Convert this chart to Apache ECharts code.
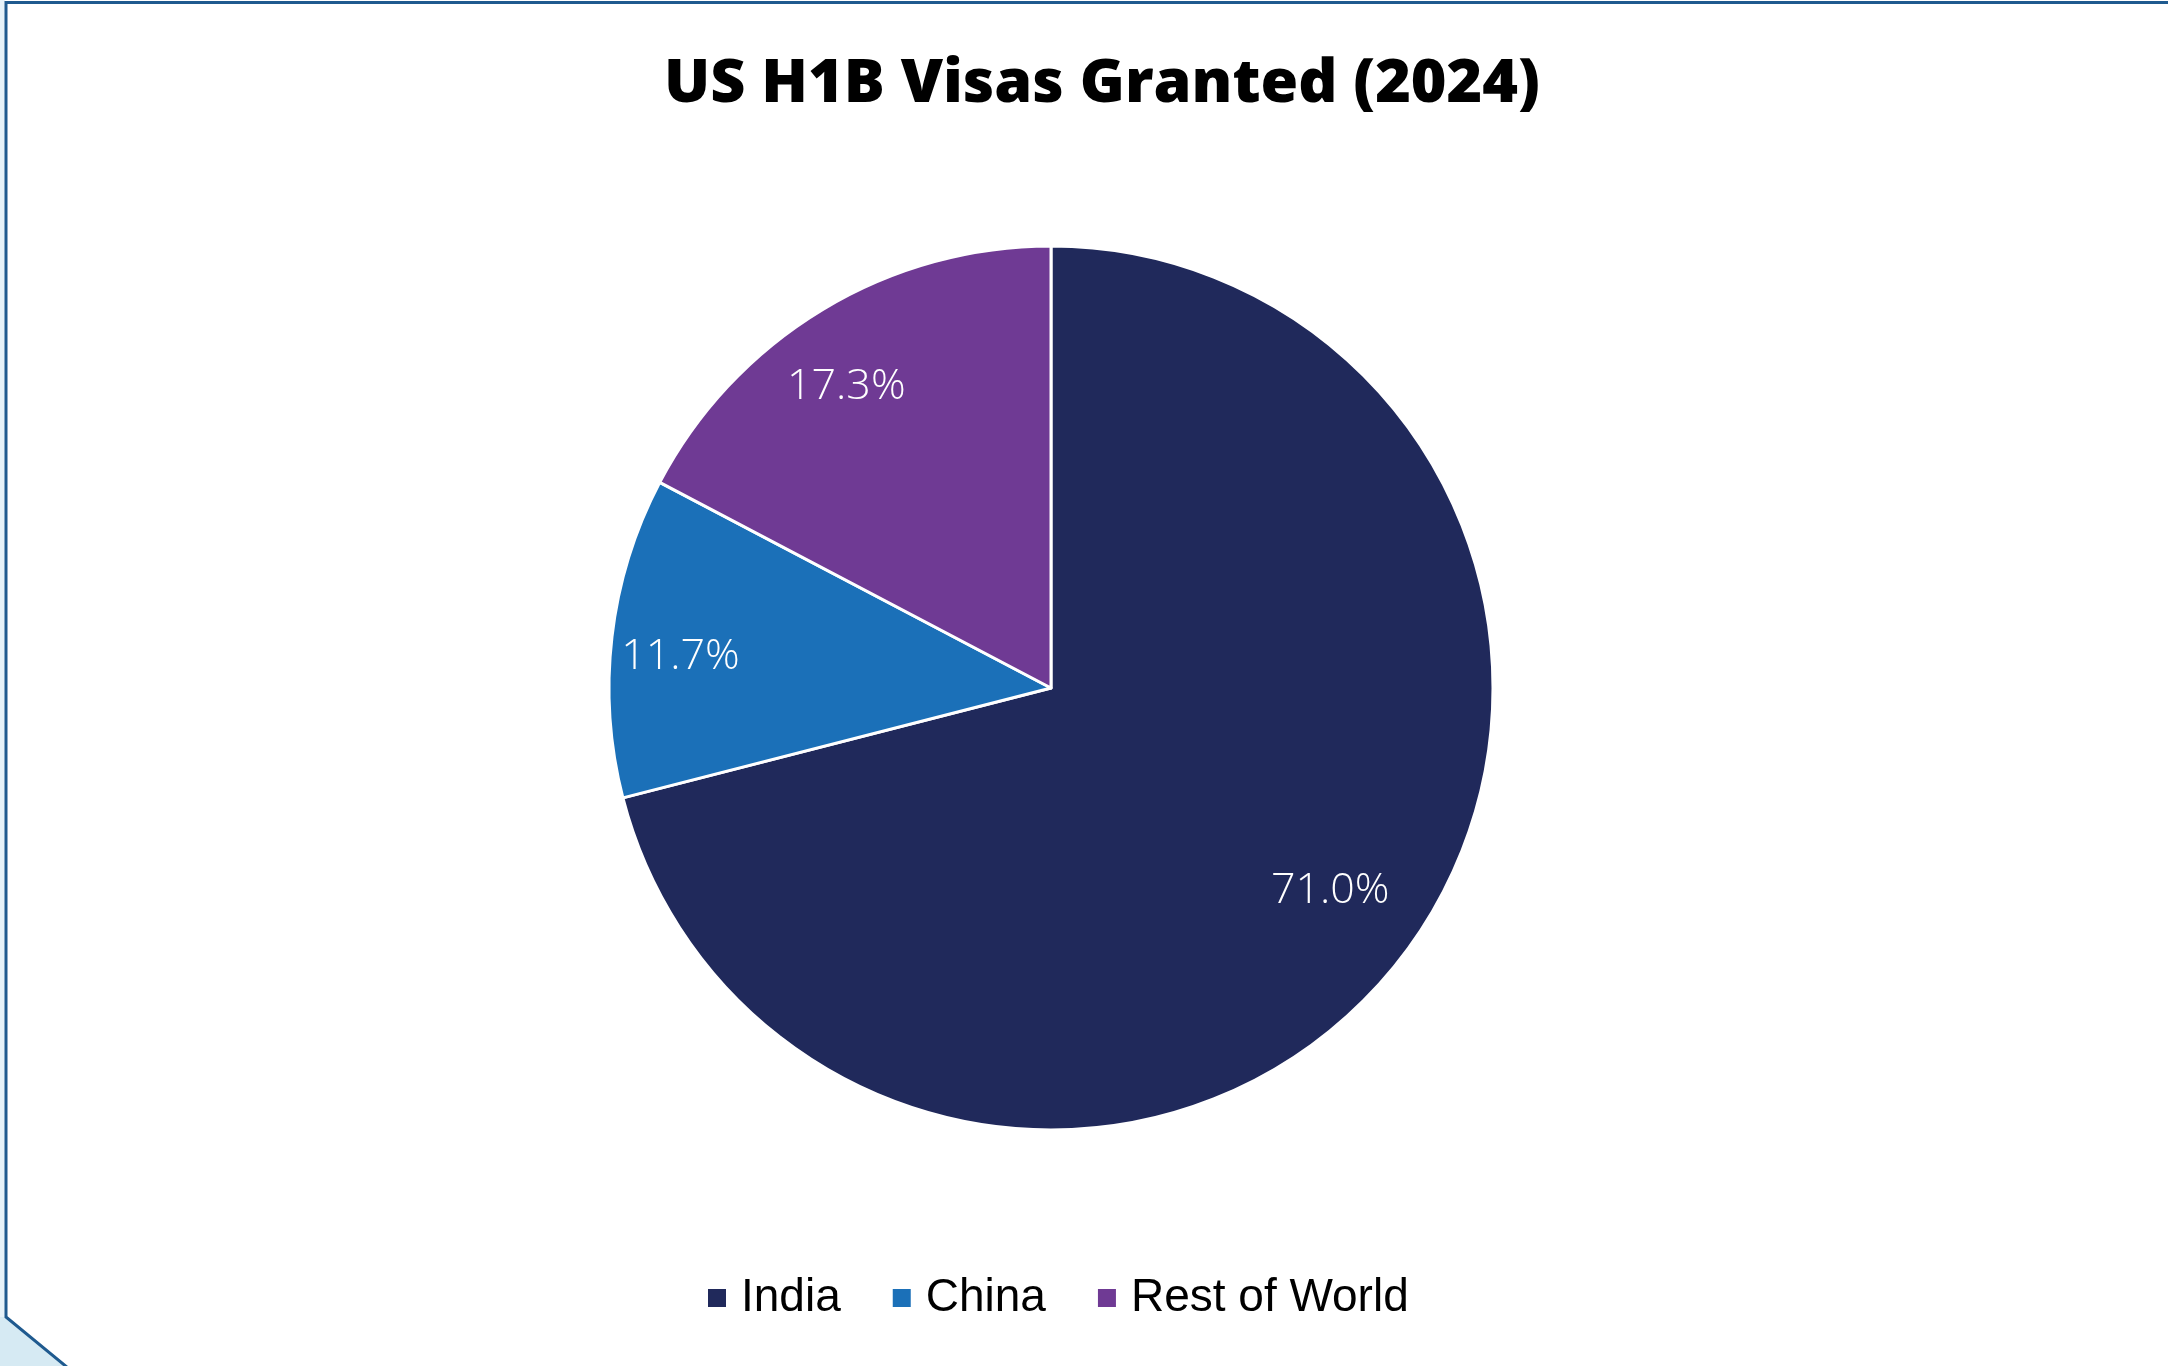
<!DOCTYPE html>
<html>
<head>
<meta charset="utf-8">
<script src="https://cdn.jsdelivr.net/npm/echarts@6/dist/echarts.min.js"></script>
<style>
html,body{margin:0;padding:0;background:#fff;}
#chart{width:2168px;height:1366px;}
</style>
</head>
<body>
<div id="chart"></div>
<script>
const titleText = 'US H1B Visas Granted (2024)';
const categories = ['India', 'China', 'Rest of World'];
const shares = [71.0, 11.7, 17.3];
const colors = ['#20295b', '#1b70b8', '#6f3a94'];
// small label nudges (px) relative to the library's inside-label position
const labelNudge = [[-6, -19], [-12, 11], [-18, 8]];

const chart = echarts.init(document.getElementById('chart'), null, {renderer: 'canvas'});

const mainData = categories.map((c, i) => ({name: c, value: shares[i], itemStyle: {color: colors[i]}}));
const labelData = categories.map((c, i) => ({name: c, value: shares[i]}));

const option = {
  backgroundColor: '#ffffff',
  animation: false,
  title: {
    text: titleText,
    left: 1097,
    top: 80,
    textAlign: 'center',
    textVerticalAlign: 'middle',
    textStyle: {fontFamily: "'Open Sans', sans-serif", fontWeight: 800, fontSize: 61, color: '#000000'}
  },
  legend: {
    bottom: 40,
    left: 701,
    itemWidth: 20,
    itemHeight: 20,
    itemGap: 50,
    icon: 'rect',
    data: categories,
    textStyle: {fontFamily: "'Liberation Sans', Arial, sans-serif", fontSize: 46, color: '#000000', padding: [0, 0, 0, 9]}
  },
  graphic: [
    {type: 'rect', shape: {x: 0, y: 0, width: 5, height: 1366}, style: {fill: '#e6f2f9'}, silent: true},
    {type: 'polygon', shape: {points: [[0, 1317], [6, 1317], [68, 1366], [0, 1366]]}, style: {fill: '#d6eaf3'}, silent: true},
    {type: 'polyline', shape: {points: [[2168, 2.5], [6, 2.5], [6, 1317], [68, 1368]]}, style: {stroke: '#1f5a8f', lineWidth: 3, fill: null}, silent: true}
  ],
  series: [
    {
      type: 'pie',
      center: [1051, 688],
      radius: [0, 442],
      startAngle: 90,
      clockwise: true,
      silent: true,
      data: mainData,
      itemStyle: {borderColor: '#ffffff', borderWidth: 3},
      label: {show: false},
      labelLine: {show: false},
      emphasis: {disabled: true}
    },
    {
      type: 'pie',
      center: [1051, 688],
      radius: [0, 716],
      startAngle: 90,
      clockwise: true,
      silent: true,
      data: labelData,
      itemStyle: {color: 'rgba(0,0,0,0)', borderWidth: 0},
      label: {
        show: true,
        position: 'inside',
        formatter: p => p.value.toFixed(1) + '%',
        color: '#ffffff',
        fontFamily: "'Open Sans', sans-serif",
        fontWeight: 300,
        fontSize: 43
      },
      labelLayout: p => ({dx: labelNudge[p.dataIndex][0], dy: labelNudge[p.dataIndex][1]}),
      labelLine: {show: false},
      emphasis: {disabled: true}
    }
  ]
};
chart.setOption(option);
</script>
</body>
</html>
